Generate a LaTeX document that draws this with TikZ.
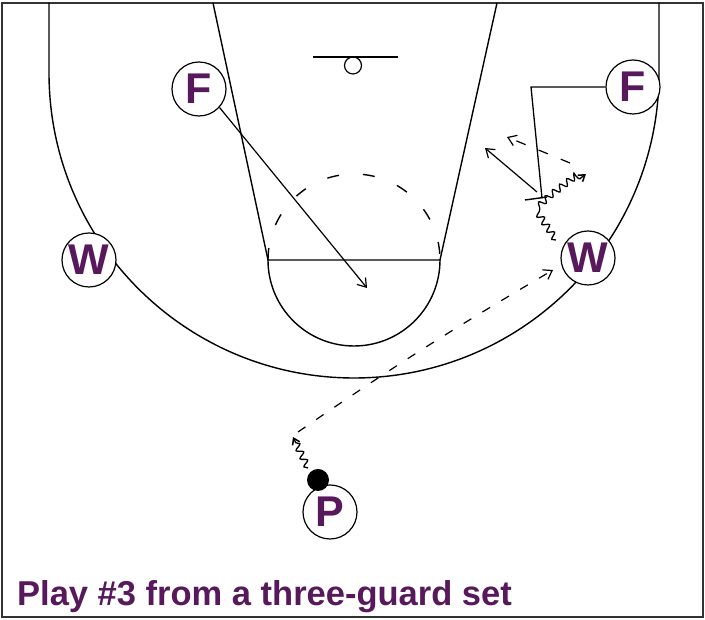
\documentclass[tikz,border=0pt]{standalone}
\usepackage{fontspec}
\setmainfont{Liberation Sans}
\usetikzlibrary{arrows.meta,decorations.pathmorphing}
\definecolor{plum}{RGB}{88,24,92}
\begin{document}
\begin{tikzpicture}[x=1pt,y=1pt,
  court/.style={line width=1.4pt, draw=black},
  player/.style={circle, draw=black, line width=1.2pt, fill=white, minimum size=54pt, inner sep=0pt, text=plum, font=\fontsize{43}{43}\selectfont\bfseries},
  move/.style={line width=1.2pt, -{Straight Barb[length=8pt,width=11pt,line width=1.2pt]}},
  passline/.style={move, dash pattern=on 9pt off 13pt},
  dribble/.style={line width=1.3pt, -{Straight Barb[length=6pt,width=8pt,line width=1.5pt]}, decorate, decoration={snake, amplitude=3.2pt, segment length=9pt, post length=4pt}},
  caption/.style={text=plum, font=\fontsize{34.5}{34.5}\selectfont\bfseries, inner sep=0pt, anchor=base west}
]
\useasboundingbox (0,0) rectangle (705,620);
\fill[white] (0,0) rectangle (705,620);
\draw[line width=1.5pt, draw=black!80] (2,3) rectangle (703,617);

% court
\draw[court] (313,563) -- (398,563);
\draw[court, line width=1.2pt] (353,554.5) circle[radius=8.5];
\draw[court] (49,617) -- (49,547) arc[start angle=180, end angle=360, radius=305] -- (659,617);
\draw[court] (213,617) -- (268,360) -- (440,360) -- (497,617);
\draw[court] (268,360) arc[start angle=180, end angle=360, radius=86];
\draw[court, dash pattern=on 12pt off 24pt] (268,360) arc[start angle=180, end angle=0, radius=86];

% players
\node[player] (F1) at (199,531) {F};
\node[player] (F2) at (633,533) {F};
\node[player] (W1) at (89,360) {W};
\node[player] (W2) at (588,362) {W};
\node[player] (P) at (330,108) {P};
\node[circle, fill=black, minimum size=22pt, inner sep=0pt] (ball) at (318,140) {};

% coordinates
\coordinate (f1end) at (367,332);
\coordinate (pd1) at (308,152);
\coordinate (pd2) at (293,183);
\coordinate (ps) at (298,188);
\coordinate (pe) at (553,350);
\coordinate (wd0) at (556,380);
\coordinate (wd1) at (538,407);
\coordinate (wd2) at (552,420);
\coordinate (wd3) at (586,446);
\coordinate (sc1) at (531,533);
\coordinate (sc2) at (542,422);
\coordinate (tb1) at (525,420);
\coordinate (tb2) at (547,423);
\coordinate (ra1) at (537,428);
\coordinate (ra2) at (485,472);
\coordinate (pa1) at (570,457);
\coordinate (pa2) at (507,483);

% movements
\draw[move] (F1.-42) -- (f1end);
\draw[dribble] (pd1) -- (pd2);
\draw[passline] (ps) to[bend left=2] (pe);
\draw[dribble] (wd0) -- (wd1) -- (wd2) -- (wd3);
\draw[line width=1.3pt] (F2.west) -- (sc1) -- (sc2);
\draw[line width=1.4pt] (tb1) -- (tb2);
\draw[move] (ra1) -- (ra2);
\draw[passline, dash pattern=on 10pt off 14pt] (pa1) -- (pa2);

% caption
\node[caption] (cap) at (17,14) {Play \#3 from a three-guard set};
\end{tikzpicture}
\end{document}
